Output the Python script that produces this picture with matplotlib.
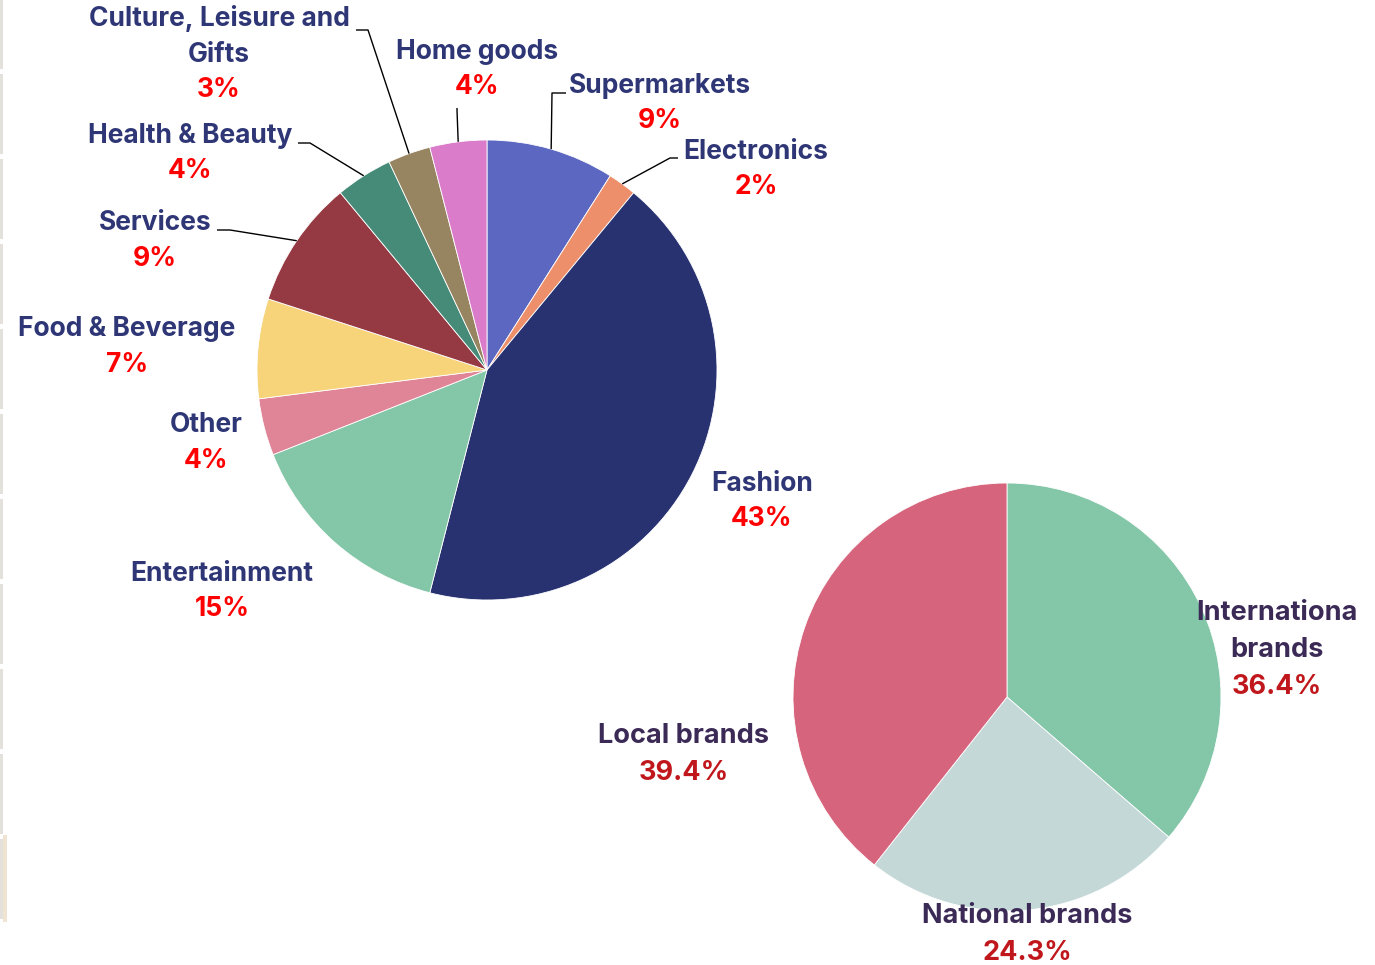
import matplotlib.pyplot as plt
import numpy as np
from matplotlib.patches import Rectangle

W, H = 1375, 965

# Share of tenants by sector
sectors = ["Supermarkets", "Electronics", "Fashion", "Entertainment", "Other",
           "Food & Beverage", "Services", "Health & Beauty",
           "Culture, Leisure and\nGifts", "Home goods"]
sector_share = [9, 2, 43, 15, 4, 7, 9, 4, 3, 4]
sector_colors = ["#5B67C0", "#EE8F6B", "#283270", "#84C6A8", "#E08597",
                 "#F7D37A", "#953A43", "#468B78", "#978460", "#DA7CC9"]

# Share of tenants by brand origin
brand_types = ["Internationa\nbrands", "National brands", "Local brands"]
brand_share = [36.4, 24.3, 39.4]
brand_colors = ["#84C6A8", "#C4D8D8", "#D6647C"]

# label anchors (pixels from top-left, centre of the first text line)
sector_label_xy = [(660, 84), (756, 150), (762, 482), (222, 572), (206, 423),
                   (127, 327), (155, 221), (190, 134), (219, 17), (477, 50)]
# leader lines: label end -> elbow, then to the slice edge
sector_leaders = {0: [(566, 93), (552, 93)], 1: [(678, 158), (670, 158)],
                  6: [(217, 230), (230, 230)], 7: [(298, 143), (310, 143)],
                  8: [(356, 30), (368, 30)], 9: [(457, 108), (457, 110)]}
brand_label_xy = [(1277, 611), (1027, 914), (684, 734)]

NAVY = "#2E3676"
RED = "#FF0000"
PURPLE = "#3B2A56"
DARK_RED = "#C0171C"
FONT = "Inter"


def img(x, y):
    return x, H - y


fig = plt.figure(figsize=(W / 100, H / 100), dpi=100)
ax = fig.add_axes([0, 0, 1, 1])

# screenshot edge strip
for k in range(11):
    y0 = max(0, 71 + 85 * (k - 1) + 3)
    y1 = min(922, 71 + 85 * k - 2)
    if y1 > y0:
        ax.add_patch(Rectangle((0, H - y1), 3, y1 - y0, color="#E4E1DD", lw=0))
ax.add_patch(Rectangle((3, H - 922), 4, 922 - 835, color="#EFE4D2", lw=0))

c1, r1 = img(487, 370), 230
wedges1, _ = ax.pie(sector_share, colors=sector_colors, startangle=90,
                    counterclock=False, center=c1, radius=r1,
                    wedgeprops=dict(linewidth=0.6, edgecolor="white"))

c2, r2 = img(1007, 697), 214
wedges2, _ = ax.pie(brand_share, colors=brand_colors, startangle=90,
                    counterclock=False, center=c2, radius=r2,
                    wedgeprops=dict(linewidth=0.6, edgecolor="white"))


def draw_label(x, y, name, pct, name_color, pct_color, step, size):
    lines = name.split("\n") + [pct]
    for i, line in enumerate(lines):
        color = pct_color if i == len(lines) - 1 else name_color
        ax.text(x, H - (y + 2 + i * step), line, ha="center", va="center",
                fontsize=size, fontweight="bold", color=color, family=FONT)


for i, (name, val) in enumerate(zip(sectors, sector_share)):
    x, y = sector_label_xy[i]
    draw_label(x, y, name, f"{val}%", NAVY, RED, 35.5, 19)
    if i in sector_leaders:
        w = wedges1[i]
        mid = np.deg2rad((w.theta1 + w.theta2) / 2)
        ex = c1[0] + r1 * np.cos(mid)
        ey = c1[1] + r1 * np.sin(mid)
        pts = [img(*p) for p in sector_leaders[i]] + [(ex, ey)]
        xs, ys = zip(*pts)
        ax.plot(xs, ys, color="black", lw=1.0, solid_capstyle="butt")

for i, (name, val) in enumerate(zip(brand_types, brand_share)):
    x, y = brand_label_xy[i]
    draw_label(x, y, name, f"{val}%", PURPLE, DARK_RED, 37, 19.5)

ax.set_xlim(0, W)
ax.set_ylim(0, H)
ax.set_aspect("equal")
ax.axis("off")

fig.savefig("out.png", dpi=100)
